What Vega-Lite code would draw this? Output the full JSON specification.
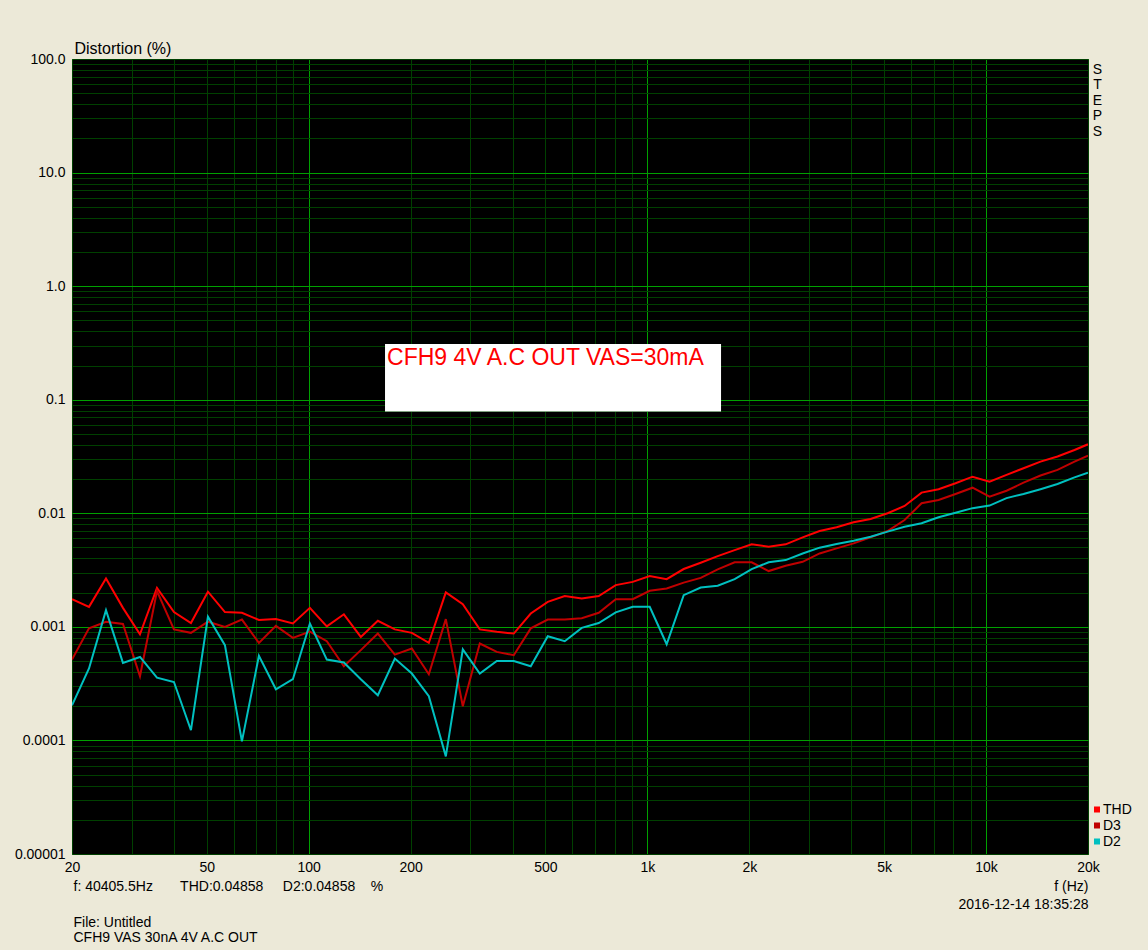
{
  "$schema": "https://vega.github.io/schema/vega-lite/v6.json",
  "width": 1016,
  "height": 795,
  "autosize": {"type": "none"},
  "padding": {"left": 72, "top": 59, "right": 60, "bottom": 96},
  "background": "#ECE9D8",
  "config": {
    "view": {"fill": "#000000", "stroke": "#00C000", "strokeWidth": 1},
    "font": "Liberation Sans",
    "axis": {
      "labelFont": "Liberation Sans", "labelFontSize": 14, "labelColor": "#000000",
      "titleFont": "Liberation Sans", "titleFontSize": 14, "titleFontWeight": "normal", "titleColor": "#000000",
      "ticks": false, "tickSize": 0, "domain": false, "labelFlush": false, "labelOverlap": false,
      "gridOpacity": 1, "gridWidth": 1
    }
  },
  "datasets": {
    "curves": [
      {"f": 20, "THD": 0.00175, "D3": 0.000515, "D2": 0.000204},
      {"f": 22.45, "THD": 0.0015, "D3": 0.00097, "D2": 0.00043},
      {"f": 25.2, "THD": 0.00267, "D3": 0.00111, "D2": 0.0014},
      {"f": 28.28, "THD": 0.00147, "D3": 0.00106, "D2": 0.000482},
      {"f": 31.75, "THD": 0.00086, "D3": 0.000367, "D2": 0.000543},
      {"f": 35.64, "THD": 0.0022, "D3": 0.00207, "D2": 0.000357},
      {"f": 40, "THD": 0.00135, "D3": 0.00095, "D2": 0.000327},
      {"f": 44.9, "THD": 0.00108, "D3": 0.000886, "D2": 0.000123},
      {"f": 50.4, "THD": 0.00204, "D3": 0.00111, "D2": 0.00123},
      {"f": 56.57, "THD": 0.00135, "D3": 0.001, "D2": 0.00069},
      {"f": 63.5, "THD": 0.00133, "D3": 0.00116, "D2": 0.000098},
      {"f": 71.27, "THD": 0.00115, "D3": 0.000723, "D2": 0.000555},
      {"f": 80, "THD": 0.00117, "D3": 0.00102, "D2": 0.000282},
      {"f": 89.8, "THD": 0.00107, "D3": 0.0008, "D2": 0.000346},
      {"f": 100.8, "THD": 0.00147, "D3": 0.00091, "D2": 0.00107},
      {"f": 113.1, "THD": 0.00101, "D3": 0.000748, "D2": 0.000515},
      {"f": 127, "THD": 0.00129, "D3": 0.00045, "D2": 0.000485},
      {"f": 142.5, "THD": 0.000816, "D3": 0.000624, "D2": 0.000346},
      {"f": 160, "THD": 0.00113, "D3": 0.000873, "D2": 0.00025},
      {"f": 179.6, "THD": 0.00095, "D3": 0.00057, "D2": 0.000526},
      {"f": 201.6, "THD": 0.000886, "D3": 0.000645, "D2": 0.000388},
      {"f": 226.3, "THD": 0.000723, "D3": 0.000383, "D2": 0.000245},
      {"f": 254, "THD": 0.00201, "D3": 0.00117, "D2": 0.0000724},
      {"f": 285.1, "THD": 0.00158, "D3": 0.0002, "D2": 0.000633},
      {"f": 320, "THD": 0.00095, "D3": 0.000713, "D2": 0.000388},
      {"f": 359.2, "THD": 0.000904, "D3": 0.000602, "D2": 0.000501},
      {"f": 403.2, "THD": 0.000873, "D3": 0.000563, "D2": 0.000501},
      {"f": 452.5, "THD": 0.00131, "D3": 0.00097, "D2": 0.00045},
      {"f": 508, "THD": 0.00166, "D3": 0.00116, "D2": 0.000828},
      {"f": 570.2, "THD": 0.00187, "D3": 0.00116, "D2": 0.000748},
      {"f": 640, "THD": 0.00178, "D3": 0.00119, "D2": 0.00098},
      {"f": 718.4, "THD": 0.00187, "D3": 0.00133, "D2": 0.00108},
      {"f": 806.3, "THD": 0.00233, "D3": 0.00175, "D2": 0.00134},
      {"f": 905, "THD": 0.00249, "D3": 0.00175, "D2": 0.0015},
      {"f": 1016, "THD": 0.0028, "D3": 0.00208, "D2": 0.0015},
      {"f": 1140, "THD": 0.00263, "D3": 0.00218, "D2": 0.000703},
      {"f": 1280, "THD": 0.00323, "D3": 0.00245, "D2": 0.0019},
      {"f": 1437, "THD": 0.00367, "D3": 0.0027, "D2": 0.00222},
      {"f": 1613, "THD": 0.0042, "D3": 0.00321, "D2": 0.0023},
      {"f": 1810, "THD": 0.00474, "D3": 0.0037, "D2": 0.00263},
      {"f": 2032, "THD": 0.00533, "D3": 0.0037, "D2": 0.00323},
      {"f": 2281, "THD": 0.00507, "D3": 0.0031, "D2": 0.0037},
      {"f": 2560, "THD": 0.00533, "D3": 0.00345, "D2": 0.00387},
      {"f": 2874, "THD": 0.00614, "D3": 0.00374, "D2": 0.00443},
      {"f": 3225, "THD": 0.00698, "D3": 0.00443, "D2": 0.00498},
      {"f": 3620, "THD": 0.00753, "D3": 0.00491, "D2": 0.00536},
      {"f": 4064, "THD": 0.00834, "D3": 0.00543, "D2": 0.00573},
      {"f": 4561, "THD": 0.00891, "D3": 0.00614, "D2": 0.00622},
      {"f": 5120, "THD": 0.01, "D3": 0.00698, "D2": 0.00689},
      {"f": 5747, "THD": 0.0116, "D3": 0.00873, "D2": 0.00762},
      {"f": 6451, "THD": 0.0152, "D3": 0.01225, "D2": 0.00816},
      {"f": 7241, "THD": 0.0163, "D3": 0.0131, "D2": 0.00923},
      {"f": 8127, "THD": 0.0184, "D3": 0.0148, "D2": 0.0101},
      {"f": 9123, "THD": 0.021, "D3": 0.0168, "D2": 0.0111},
      {"f": 10240, "THD": 0.019, "D3": 0.014, "D2": 0.0117},
      {"f": 11494, "THD": 0.0218, "D3": 0.0158, "D2": 0.0136},
      {"f": 12902, "THD": 0.0249, "D3": 0.0186, "D2": 0.0148},
      {"f": 14482, "THD": 0.0285, "D3": 0.0215, "D2": 0.0163},
      {"f": 16255, "THD": 0.0316, "D3": 0.0241, "D2": 0.0181},
      {"f": 18245, "THD": 0.0361, "D3": 0.0285, "D2": 0.0207},
      {"f": 20000, "THD": 0.0405, "D3": 0.0322, "D2": 0.0228}
    ],
    "note": [
      {"f1": 168.0, "f2": 1650, "v1": 0.3095, "v2": 0.0787, "tf": 170.3, "tv": 0.2042, "label": "CFH9 4V A.C OUT VAS=30mA"}
    ]
  },
  "layer": [
    {
      "data": {"name": "curves"},
      "transform": [{"fold": ["THD", "D3", "D2"], "as": ["series", "value"]}],
      "mark": {"type": "line", "strokeWidth": 2, "clip": true},
      "encoding": {
        "x": {
          "field": "f", "type": "quantitative",
          "scale": {"type": "log", "domain": [20, 20000]},
          "axis": {
            "orient": "bottom",
            "values": [20, 30, 40, 50, 60, 70, 80, 90, 200, 300, 400, 500, 600, 700, 800, 900, 2000, 3000, 4000, 5000, 6000, 7000, 8000, 9000, 20000],
            "grid": true,
            "gridColor": "#004000",
            "labelExpr": "(datum.value==20||datum.value==50||datum.value==200||datum.value==500) ? ''+datum.value : (datum.value==2000||datum.value==5000||datum.value==20000) ? (datum.value/1000)+'k' : ''",
            "labelBaseline": "top", "labelAlign": "center", "labelPadding": 6,
            "title": ["f (Hz)", "", "2016-12-14 18:35:28"],
            "titleX": 1016, "titleY": 36, "titleAlign": "right", "titleBaseline": "alphabetic", "titleLineHeight": 18, "titleAngle": 0
          }
        },
        "y": {
          "field": "value", "type": "quantitative",
          "scale": {"type": "log", "domain": [0.00001, 100]},
          "axis": {
            "orient": "left",
            "values": [0.00001, 0.00002, 0.00003, 0.00004, 0.00005, 0.00006, 0.00007, 0.00008, 0.00009,
                       0.0001, 0.0002, 0.0003, 0.0004, 0.0005, 0.0006, 0.0007, 0.0008, 0.0009,
                       0.001, 0.002, 0.003, 0.004, 0.005, 0.006, 0.007, 0.008, 0.009,
                       0.01, 0.02, 0.03, 0.04, 0.05, 0.06, 0.07, 0.08, 0.09,
                       0.1, 0.2, 0.3, 0.4, 0.5, 0.6, 0.7, 0.8, 0.9,
                       1, 2, 3, 4, 5, 6, 7, 8, 9,
                       10, 20, 30, 40, 50, 60, 70, 80, 90, 100],
            "grid": true,
            "gridColor": "#004000",
            "labelExpr": "datum.value==100?'100.0':datum.value==10?'10.0':datum.value==1?'1.0':datum.value==0.1?'0.1':datum.value==0.01?'0.01':datum.value==0.001?'0.001':datum.value==0.0001?'0.0001':datum.value==0.00001?'0.00001':''",
            "labelBaseline": "middle", "labelAlign": "right", "labelPadding": 7,
            "title": "Distortion (%)",
            "titleAngle": 0, "titleX": 2, "titleY": -6, "titleAlign": "left", "titleBaseline": "alphabetic", "titleFontSize": 16
          }
        },
        "color": {
          "field": "series", "type": "nominal",
          "scale": {"domain": ["THD", "D3", "D2"], "range": ["#FF0000", "#C00000", "#00C0C0"]},
          "legend": {
            "orient": "none", "legendX": 1018, "legendY": 742.5, "title": null,
            "symbolType": "square", "symbolSize": 9, "symbolStrokeWidth": 3,
            "labelFont": "Liberation Sans", "labelFontSize": 14, "labelColor": "#000000", "labelOffset": -1,
            "clipHeight": 16, "rowPadding": 0, "padding": 0
          }
        }
      }
    },
    {
      "data": {"name": "note"},
      "mark": {"type": "rect", "fill": "#FFFFFF", "strokeWidth": 0},
      "encoding": {
        "x": {
          "field": "f1", "type": "quantitative",
          "scale": {"type": "log", "domain": [20, 20000]},
          "axis": {
            "orient": "bottom",
            "values": [100, 1000, 10000],
            "labelExpr": "datum.value==100 ? '100' : (datum.value/1000)+'k'",
            "labelBaseline": "top", "labelAlign": "center", "labelPadding": 6,
            "grid": true, "gridColor": "#00A000",
            "title": "f: 40405.5Hz\u00a0\u00a0\u00a0\u00a0\u00a0\u00a0\u00a0THD:0.04858\u00a0\u00a0\u00a0\u00a0\u00a0D2:0.04858\u00a0\u00a0\u00a0\u00a0%",
            "titleX": 1, "titleY": 36, "titleAlign": "left", "titleBaseline": "alphabetic", "titleAngle": 0
          }
        },
        "x2": {"field": "f2"},
        "y": {
          "field": "v1", "type": "quantitative",
          "scale": {"type": "log", "domain": [0.00001, 100]},
          "axis": {
            "orient": "right", "labels": false,
            "values": [0.0001, 0.001, 0.01, 0.1, 1, 10],
            "grid": true, "gridColor": "#00A000",
            "title": ["S", "T", "E", "P", "S"],
            "titleAngle": 0, "titleX": 9, "titleY": 14, "titleAlign": "center", "titleBaseline": "alphabetic", "titleLineHeight": 15.5
          }
        },
        "y2": {"field": "v2"}
      }
    },
    {
      "data": {"name": "note"},
      "mark": {"type": "text", "align": "left", "baseline": "alphabetic", "font": "Liberation Sans", "fontSize": 23, "fill": "#FF0000"},
      "encoding": {
        "x": {
          "field": "tf", "type": "quantitative",
          "scale": {"type": "log", "domain": [20, 20000]},
          "axis": {
            "orient": "bottom", "labels": false, "grid": false, "values": [],
            "title": ["File: Untitled", "CFH9 VAS 30nA 4V A.C OUT"],
            "titleX": 1, "titleY": 72, "titleAlign": "left", "titleBaseline": "alphabetic", "titleLineHeight": 15.5, "titleAngle": 0
          }
        },
        "y": {
          "field": "tv", "type": "quantitative",
          "scale": {"type": "log", "domain": [0.00001, 100]},
          "axis": null
        },
        "text": {"field": "label"}
      }
    }
  ],
  "resolve": {"axis": {"x": "independent", "y": "independent"}}
}
